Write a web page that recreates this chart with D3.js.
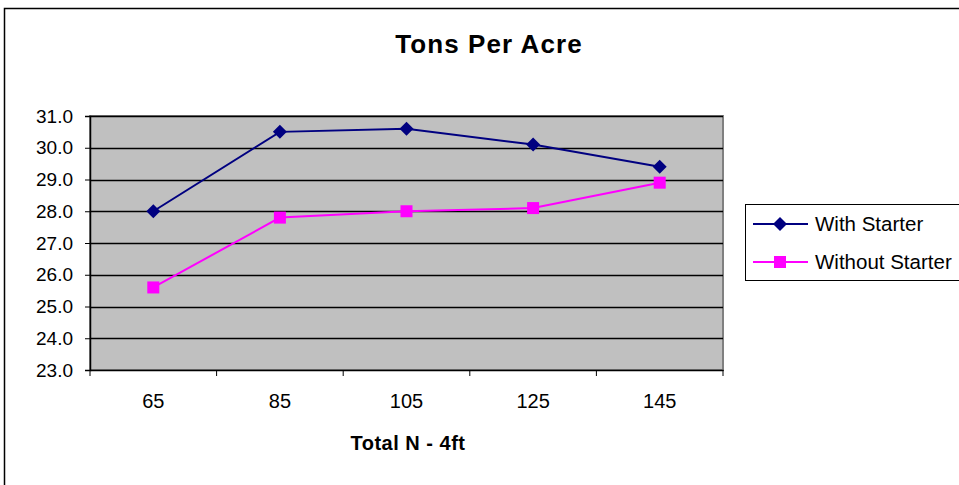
<!DOCTYPE html>
<html><head><meta charset="utf-8">
<script src="https://cdn.jsdelivr.net/npm/d3@7"></script>
<style>body{margin:0;background:#fff}svg{display:block;font-family:"Liberation Sans",Arial,sans-serif}</style>
</head><body><svg id="c" width="959" height="485"></svg>
<script>
const categories = ["65","85","105","125","145"];
const withStarter = [28.0, 30.5, 30.6, 30.1, 29.4];
const withoutStarter = [25.6, 27.8, 28.0, 28.1, 28.9];
const yTicks = [23,24,25,26,27,28,29,30,31];
const seriesNames = ["With Starter","Without Starter"];

const svg = d3.select("#c");
const m = {l:90, r:723, t:116, b:370};
const x = d3.scaleBand().domain(categories).range([m.l, m.r]);
const y = d3.scaleLinear().domain([23,31]).range([m.b, m.t]);
const FF = "Liberation Sans, Arial, sans-serif";

// outer border
svg.append("rect").attr("x",4.5).attr("y",8.5).attr("width",970).attr("height",490)
  .attr("fill","#fff").attr("stroke","#000").attr("stroke-width",1.5);

// title
svg.append("text").attr("x",489).attr("y",53).attr("text-anchor","middle")
  .attr("font-size",26).attr("font-weight","bold").attr("letter-spacing",1.1).text("Tons Per Acre");

// plot area
svg.append("rect").attr("x",m.l).attr("y",m.t).attr("width",m.r-m.l).attr("height",m.b-m.t)
  .attr("fill","#c0c0c0").attr("stroke","#808080").attr("stroke-width",2);

// gridlines
svg.append("g").selectAll("line").data(yTicks.slice(1)).join("line")
  .attr("x1",m.l).attr("x2",m.r).attr("y1",d=>Math.round(y(d))+0.5).attr("y2",d=>Math.round(y(d))+0.5)
  .attr("stroke","#000").attr("stroke-width",1.3);

// y axis
const ya = svg.append("g").attr("transform",`translate(${m.l},0)`)
  .call(d3.axisLeft(y).tickValues(yTicks).tickFormat(d3.format(".1f")).tickSize(5).tickPadding(12));
ya.select(".domain").attr("stroke","#000").attr("stroke-width",1.5);
ya.selectAll(".tick line").attr("stroke","#000");
ya.selectAll("text").attr("font-size",19).attr("fill","#000").attr("font-family",FF);

// x axis
const xa = svg.append("g").attr("transform",`translate(0,${m.b})`)
  .call(d3.axisBottom(x).tickSize(0).tickPadding(24));
xa.select(".domain").attr("stroke","#000").attr("stroke-width",1.5);
xa.selectAll("text").attr("font-size",20).attr("fill","#000").attr("font-family",FF);
// category boundary ticks
const bounds = categories.map(c=>x(c)).concat([m.r]);
svg.append("g").selectAll("line").data(bounds).join("line")
  .attr("x1",d=>d).attr("x2",d=>d).attr("y1",m.b).attr("y2",m.b+6)
  .attr("stroke","#000").attr("stroke-width",1);

// x title
svg.append("text").attr("x",408).attr("y",450).attr("text-anchor","middle")
  .attr("font-size",20).attr("font-weight","bold").attr("letter-spacing",0.5).text("Total N - 4ft");

const cx = d => x(d)+x.bandwidth()/2;
const line = d3.line().x((d,i)=>cx(categories[i])).y(d=>y(d));
const colors = ["#000080","#ff00ff"];
const data = [withStarter, withoutStarter];

data.forEach((s,k)=>{
  svg.append("path").datum(s).attr("d",line).attr("fill","none")
    .attr("stroke",colors[k]).attr("stroke-width",2);
});
const diamond = d3.symbol().type(d3.symbolSquare).size(98);
svg.append("g").selectAll("path").data(withStarter).join("path")
  .attr("d",diamond).attr("fill",colors[0])
  .attr("transform",(d,i)=>`translate(${cx(categories[i])},${y(d)}) rotate(45)`);
svg.append("g").selectAll("rect").data(withoutStarter).join("rect")
  .attr("x",(d,i)=>cx(categories[i])-6).attr("y",d=>y(d)-6)
  .attr("width",12).attr("height",12).attr("fill",colors[1]);

// legend
const lg = svg.append("g");
lg.append("rect").attr("x",745.5).attr("y",204.5).attr("width",230).attr("height",76)
  .attr("fill","#fff").attr("stroke","#000").attr("stroke-width",1);
seriesNames.forEach((n,k)=>{
  const ly = k===0?224:262;
  lg.append("line").attr("x1",753).attr("x2",808).attr("y1",ly).attr("y2",ly)
    .attr("stroke",colors[k]).attr("stroke-width",2);
  if(k===0){
    lg.append("path").attr("d",diamond).attr("fill",colors[0])
      .attr("transform",`translate(780,${ly}) rotate(45)`);
  } else {
    lg.append("rect").attr("x",774).attr("y",ly-6).attr("width",12).attr("height",12).attr("fill",colors[1]);
  }
  lg.append("text").attr("x",815).attr("y",ly+7).attr("font-size",20.5).attr("fill","#000").text(n);
});
</script></body></html>
